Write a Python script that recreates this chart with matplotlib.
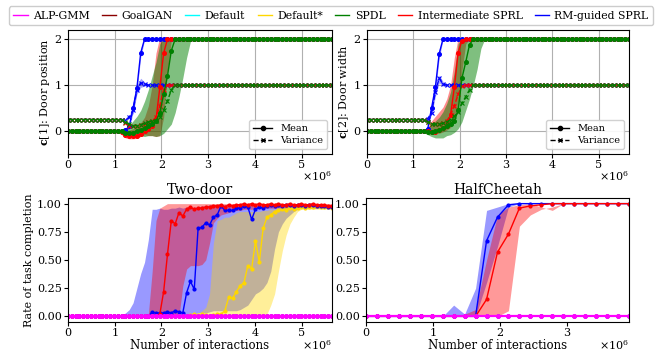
import numpy as np
import matplotlib
matplotlib.use("Agg")
import matplotlib.pyplot as plt
from matplotlib.lines import Line2D

plt.rcParams['font.family'] = ['DejaVu Serif']
plt.rcParams['mathtext.fontset'] = 'dejavuserif'

# ---------------- data ----------------
STEP_TD = 0.08192e6   # evaluation spacing (two-door / curricula)
STEP_HC = 0.16384e6   # evaluation spacing (HalfCheetah)
N_TD = 70
N_HC = 25

methods = ["ALP-GMM", "GoalGAN", "Default", "Default*", "SPDL",
           "Intermediate SPRL", "RM-guided SPRL"]
colors = {"ALP-GMM": "magenta", "GoalGAN": "darkred", "Default": "cyan",
          "Default*": "gold", "SPDL": "green",
          "Intermediate SPRL": "red", "RM-guided SPRL": "blue"}

# --- curriculum, door position (indices 13..34 given, constant before/after)
pos_blue_mean = [0.0]*13 + [0, 0, 0.02, 0.1, 0.5, 0.93, 1.7, 2.0] + [2.0]*49
pos_blue_var = [0.25]*13 + [0.25, 0.25, 0.25, 0.3, 0.45, 0.9, 1.05, 1.02] + [1.0]*49
pos_blue_lo = [0.0]*13 + [0, 0, 0, 0.05, 0.4, 0.85, 1.6, 1.98] + [2.0]*49
pos_blue_hi = [0.0]*13 + [0, 0, 0.04, 0.18, 0.6, 1.02, 1.8, 2.02] + [2.0]*49
pos_blue_var_lo = [0.25]*13 + [0.25, 0.25, 0.24, 0.27, 0.38, 0.8, 0.95, 0.98] + [1.0]*49
pos_blue_var_hi = [0.25]*13 + [0.25, 0.25, 0.26, 0.33, 0.55, 1.0, 1.15, 1.07] + [1.0]*49

pos_red_mean = [0.0]*13 + [0, -0.03, -0.08, -0.1, -0.1, -0.1, -0.07, 0.0, 0.05, 0.11,
                           0.25, 0.95, 1.7, 2.0] + [2.0]*43
pos_red_var = [0.25]*13 + [0.25, 0.25, 0.18, 0.12, 0.1, 0.12, 0.14, 0.16, 0.19, 0.22,
                           0.3, 0.55, 0.9, 1.0] + [1.0]*43
pos_red_lo = [0.0]*13 + [0, -0.08, -0.15, -0.17, -0.17, -0.16, -0.12, -0.08, -0.1, -0.1,
                         -0.12, -0.1, 0.3, 1.3, 1.97] + [2.0]*42
pos_red_hi = [0.0]*13 + [0, 0.02, 0.02, 0.02, 0.05, 0.1, 0.18, 0.3, 0.55, 1.0,
                         1.7, 2.05, 2.04, 2.03] + [2.0]*43

pos_green_mean = [0.0]*13 + [0, 0, -0.04, -0.05, -0.04, 0.0, 0.03, 0.06, 0.1, 0.15,
                             0.22, 0.4, 0.8, 1.2, 1.75, 2.0] + [2.0]*41
pos_green_var = [0.25]*13 + [0.25, 0.25, 0.2, 0.15, 0.12, 0.12, 0.14, 0.17, 0.2, 0.22,
                             0.22, 0.3, 0.45, 0.65, 0.9, 1.0] + [1.0]*41
pos_green_lo = [0.0]*13 + [0, -0.02, -0.08, -0.1, -0.12, -0.12, -0.1, -0.12, -0.1, -0.1,
                           -0.12, -0.1, -0.05, 0.05, 0.15, 0.4, 0.75, 1.15, 1.6, 1.95] + [2.0]*37
pos_green_hi = [0.0]*13 + [0, 0.03, 0.07, 0.12, 0.22, 0.32, 0.45, 0.65, 0.9, 1.2,
                           1.5, 1.9, 2.03, 2.02, 2.02, 2.02, 2.02, 2.02, 2.01] + [2.0]*38

# --- curriculum, door width
wid_blue_mean = [0.0]*13 + [0, 0, 0, 0.05, 0.5, 0.95, 1.68, 2.0] + [2.0]*49
wid_blue_var = [0.25]*13 + [0.25, 0.25, 0.25, 0.27, 0.4, 0.85, 1.15, 1.02] + [1.0]*49
wid_blue_lo = [0.0]*13 + [0, 0, 0, 0.02, 0.4, 0.85, 1.58, 1.98] + [2.0]*49
wid_blue_hi = [0.0]*13 + [0, 0, 0.02, 0.1, 0.6, 1.05, 1.78, 2.02] + [2.0]*49
wid_blue_var_lo = [0.25]*13 + [0.25, 0.25, 0.25, 0.25, 0.35, 0.75, 1.05, 0.98] + [1.0]*49
wid_blue_var_hi = [0.25]*13 + [0.25, 0.25, 0.25, 0.3, 0.48, 0.95, 1.22, 1.08] + [1.0]*49

wid_red_mean = [0.0]*13 + [0, 0, 0, 0, -0.02, -0.02, 0.03, 0.07, 0.12, 0.35,
                           0.95, 1.7, 1.97, 2.0] + [2.0]*43
wid_red_var = [0.25]*13 + [0.25, 0.25, 0.25, 0.2, 0.15, 0.15, 0.15, 0.17, 0.22, 0.35,
                           0.55, 0.8, 0.97, 1.0] + [1.0]*43
wid_red_lo = [0.0]*13 + [0, 0, 0, 0, -0.05, -0.05, -0.05, -0.02, 0.02, 0.08,
                         0.2, 0.5, 1.3, 1.9] + [2.0]*43
wid_red_hi = [0.0]*13 + [0, 0, 0.02, 0.08, 0.22, 0.32, 0.42, 0.52, 0.7, 1.0,
                         1.6, 2.03, 2.02, 2.02] + [2.0]*43

wid_green_mean = [0.0]*13 + [0, 0, 0, -0.02, -0.03, 0.0, 0.03, 0.06, 0.1, 0.15,
                             0.22, 0.45, 1.15, 1.5, 1.88, 2.0] + [2.0]*41
wid_green_var = [0.25]*13 + [0.25, 0.25, 0.25, 0.2, 0.15, 0.15, 0.15, 0.17, 0.2, 0.25,
                             0.32, 0.42, 0.6, 0.75, 0.9, 1.0] + [1.0]*41
wid_green_lo = [0.0]*13 + [0, 0, -0.03, -0.08, -0.12, -0.15, -0.15, -0.15, -0.1, -0.08,
                           -0.03, 0.05, 0.2, 0.45, 0.7, 1.0, 1.35, 1.8] + [2.0]*39
wid_green_hi = [0.0]*13 + [0, 0.01, 0.04, 0.08, 0.15, 0.22, 0.3, 0.42, 0.6, 0.85,
                           1.3, 1.9, 2.02, 2.02, 2.02, 2.02, 2.01] + [2.0]*40

# --- Two-door success rate
td_red_mean = [0.0]*24 + [0.02, 0.22, 0.55, 0.85, 0.82, 0.92, 0.89, 0.95, 0.97, 0.95,
                          0.96, 0.96, 0.97, 0.97, 0.98, 0.98, 0.99, 0.97, 0.99, 0.98,
                          0.99, 0.99, 1.0, 0.99, 1.0, 0.99, 1.0, 0.99, 0.99, 1.0,
                          0.99, 1.0, 0.99, 0.99, 1.0, 0.99, 0.99, 1.0, 0.99, 0.99,
                          1.0, 0.99, 0.99, 0.99, 0.98, 0.98]
td_red_lo = [0.0]*30 + [0.27, 0.42, 0.45, 0.45, 0.45, 0.46, 0.5, 0.65, 0.83, 0.87,
                        0.9, 0.91, 0.92, 0.93, 0.94, 0.94, 0.95, 0.95, 0.95, 0.96] + [0.96]*20
td_red_hi = [0.0]*21 + [0.02, 0.4, 0.85, 0.96, 0.98] + [1.0]*44

td_blue_mean = [0.0]*22 + [0.04, 0.03, 0.03, 0.03, 0.04, 0.03, 0.05, 0.04, 0.03, 0.21,
                           0.31, 0.24, 0.78, 0.79, 0.83, 0.81, 0.88, 0.9, 0.98, 0.94,
                           0.94, 0.94, 0.96, 0.96, 0.98, 0.97, 0.86, 0.95, 0.97, 0.96,
                           0.98, 0.99, 0.98, 0.99, 0.98, 0.99, 0.99, 0.98, 0.99, 0.99,
                           0.98, 0.99, 0.99, 0.98, 0.98, 0.98, 0.97, 0.97]
td_blue_lo = [0.0]*31 + [0.01, 0.02, 0.02, 0.03, 0.03, 0.03, 0.04, 0.05, 0.05, 0.05,
                         0.05, 0.05, 0.05, 0.05, 0.06, 0.08, 0.1, 0.15, 0.2, 0.22,
                         0.25, 0.3, 0.4, 0.6, 0.75, 0.82, 0.87, 0.9, 0.93, 0.95] + [0.96]*9
td_blue_hi = [0.0]*14 + [0.01, 0.03, 0.06, 0.12, 0.25, 0.38, 0.48, 0.68, 0.95, 0.95, 0.96,
                         0.95, 0.95, 0.96, 0.96, 0.97, 0.96, 0.97, 0.96, 0.97, 0.97,
                         0.98, 0.98] + [0.99]*33

td_yel_mean = [0.0]*32 + [0.01, 0.02, 0.01, 0.02, 0.01, 0.0, 0.01, 0.02, 0.02, 0.05,
                          0.17, 0.16, 0.22, 0.27, 0.3, 0.45, 0.42, 0.67, 0.48, 0.78,
                          0.88, 0.9, 0.93, 0.94, 0.95, 0.94, 0.96, 0.95, 0.96, 0.97,
                          0.96, 0.97, 0.97, 0.98, 0.97, 0.97, 0.97, 0.96]
td_yel_lo = [0.0]*52 + [0.02, 0.1, 0.2, 0.4, 0.58, 0.72, 0.82, 0.88, 0.93] + [0.95]*9
td_yel_hi = [0.0]*32 + [0.01, 0.02, 0.03, 0.05, 0.08, 0.2, 0.65, 0.85, 0.86, 0.88,
                        0.88, 0.9, 0.92, 0.93, 0.93, 0.93, 0.93, 0.93, 0.93, 0.94,
                        0.94, 0.95, 0.95, 0.96, 0.97] + [0.98]*13
td_zero = [0.0]*N_TD

# --- HalfCheetah success rate
hc_blue_mean = [0.0]*11 + [0.67, 0.88, 0.99] + [1.0]*11
hc_blue_lo = [0.0]*11 + [0.3, 0.62, 0.97] + [1.0]*11
hc_blue_hi = [0.0]*8 + [0.1, 0.02, 0.25, 0.94, 0.97] + [1.0]*12
hc_red_mean = [0.0]*11 + [0.15, 0.57, 0.73, 0.96, 0.98, 0.99] + [1.0]*8
hc_red_lo = [0.0]*13 + [0.05, 0.8, 0.9, 0.95, 0.97] + [1.0]*7
hc_red_hi = [0.0]*9 + [0.02, 0.06, 0.5, 0.9, 0.97, 0.99, 1.0, 0.97, 0.94] + [1.0]*7
hc_zero = [0.0]*N_HC

x_td = np.arange(N_TD) * STEP_TD
x_hc = np.arange(N_HC) * STEP_HC

# ---------------- figure ----------------
W, H = 662, 356
fig = plt.figure(figsize=(W/100, H/100), dpi=100)

def ax_px(l, t, r, b):
    return fig.add_axes([l/W, 1 - b/H, (r-l)/W, (b-t)/H])

ax_tl = ax_px(68, 30, 332, 154)
ax_tr = ax_px(367, 30, 629, 154)
ax_bl = ax_px(68, 198, 332, 322)
ax_br = ax_px(366, 198, 629, 322)

FS = 8

def curriculum(ax, data, ylabel):
    for name, (m, v, lo, hi, alpha) in data:
        c = colors[name]
        ax.fill_between(x_td, lo, hi, color=c, alpha=alpha, lw=0)
    for name, (m, v, lo, hi, alpha) in data:
        c = colors[name]
        ax.plot(x_td, m, '-', color=c, marker='o', ms=2.6, lw=1.0)
        ax.plot(x_td, v, '--', color=c, marker='x', ms=2.6, lw=1.0, mew=0.8)
    ax.set_xlim(0, x_td[-1])
    ax.set_ylim(-0.5, 2.2)
    ax.set_yticks([0, 1, 2])
    ax.grid(True, color='#b0b0b0', lw=0.8)
    ax.set_axisbelow(True)
    ax.set_ylabel(ylabel, fontsize=8, labelpad=2)
    ax.tick_params(labelsize=FS, length=3, pad=1.5)
    h = [Line2D([], [], color='k', marker='o', ms=3, lw=1.0),
         Line2D([], [], color='k', marker='x', ms=3, lw=1.0, ls='--')]
    ax.legend(h, ["Mean", "Variance"], loc='lower right', fontsize=7,
              handlelength=2.0, borderpad=0.4, labelspacing=0.3,
              framealpha=0.9, edgecolor='#cccccc')

# blue variance blobs
ax_tl.fill_between(x_td, pos_blue_var_lo, pos_blue_var_hi, color='blue', alpha=0.35, lw=0)
ax_tr.fill_between(x_td, wid_blue_var_lo, wid_blue_var_hi, color='blue', alpha=0.35, lw=0)

curriculum(ax_tl, [
    ("RM-guided SPRL", (pos_blue_mean, pos_blue_var, pos_blue_lo, pos_blue_hi, 0.35)),
    ("Intermediate SPRL", (pos_red_mean, pos_red_var, pos_red_lo, pos_red_hi, 0.45)),
    ("SPDL", (pos_green_mean, pos_green_var, pos_green_lo, pos_green_hi, 0.5)),
], r'$\mathbf{c}$[1]: Door position')
curriculum(ax_tr, [
    ("RM-guided SPRL", (wid_blue_mean, wid_blue_var, wid_blue_lo, wid_blue_hi, 0.35)),
    ("Intermediate SPRL", (wid_red_mean, wid_red_var, wid_red_lo, wid_red_hi, 0.45)),
    ("SPDL", (wid_green_mean, wid_green_var, wid_green_lo, wid_green_hi, 0.5)),
], r'$\mathbf{c}$[2]: Door width')

# Two-door
ax = ax_bl
ax.fill_between(x_td, td_blue_lo, td_blue_hi, color='blue', alpha=0.4, lw=0)
ax.fill_between(x_td, td_red_lo, td_red_hi, color='red', alpha=0.4, lw=0)
ax.fill_between(x_td, td_yel_lo, td_yel_hi, color='gold', alpha=0.4, lw=0)
ax.plot(x_td, td_zero, color=colors["GoalGAN"], marker='o', ms=2, lw=1.2)
ax.plot(x_td, td_zero, color=colors["Default"], marker='o', ms=2, lw=1.2)
ax.plot(x_td, td_yel_mean, color='gold', marker='o', ms=2, lw=1.0)
ax.plot(x_td, td_blue_mean, color='blue', marker='o', ms=2, lw=1.0)
ax.plot(x_td, td_red_mean, color='red', marker='o', ms=2, lw=1.0)
ax.plot(x_td, td_zero, color='magenta', marker='o', ms=2.6, lw=1.6)
ax.set_xlim(0, x_td[-1])
ax.set_ylim(-0.05, 1.05)
ax.set_title("Two-door", fontsize=10, pad=3)
ax.set_ylabel("Rate of task completion", fontsize=8, labelpad=2)

# HalfCheetah
ax = ax_br
ax.fill_between(x_hc, hc_blue_lo, hc_blue_hi, color='blue', alpha=0.4, lw=0)
ax.fill_between(x_hc, hc_red_lo, hc_red_hi, color='red', alpha=0.4, lw=0)
ax.plot(x_hc, hc_zero, color=colors["GoalGAN"], marker='o', ms=2, lw=1.2)
ax.plot(x_hc, hc_zero, color=colors["Default"], marker='o', ms=2, lw=1.2)
ax.plot(x_hc, hc_blue_mean, color='blue', marker='o', ms=2, lw=1.0)
ax.plot(x_hc, hc_red_mean, color='red', marker='o', ms=2, lw=1.0)
ax.plot(x_hc, hc_zero, color='magenta', marker='o', ms=2.6, lw=1.6)
ax.set_xlim(0, x_hc[-1])
ax.set_ylim(-0.05, 1.05)
ax.set_title("HalfCheetah", fontsize=10, pad=3)

for ax in (ax_bl, ax_br):
    ax.set_yticks([0, 0.25, 0.5, 0.75, 1.0])
    ax.set_xlabel("Number of interactions", fontsize=8.5)
    ax.xaxis.set_label_coords(0.5, -0.135)
    ax.tick_params(labelsize=FS, length=3, pad=1.5)

for ax in (ax_tl, ax_tr, ax_bl, ax_br):
    ax.set_xticks(np.arange(0, ax.get_xlim()[1] + 1, 1e6))
    # the x-axis multiplier, placed as in the reference
    ax.xaxis.get_offset_text().set_visible(False)

for ax in (ax_tl, ax_tr):
    ax.text(1.0, -0.125, r'$\times10^{6}$', transform=ax.transAxes, ha='right',
            va='top', fontsize=FS)
for ax in (ax_bl, ax_br):
    ax.text(1.0, -0.13, r'$\times10^{6}$', transform=ax.transAxes, ha='right',
            va='top', fontsize=FS)

handles = [Line2D([], [], color=colors[m], lw=1.0) for m in methods]
fig.legend(handles, methods, loc='upper center', bbox_to_anchor=(0.5, 0.997),
           ncol=7, fontsize=7.8, handlelength=1.3, handletextpad=0.5,
           columnspacing=1.15, borderpad=0.4, edgecolor='#cccccc', framealpha=1)

fig.savefig("out.png", dpi=100)
